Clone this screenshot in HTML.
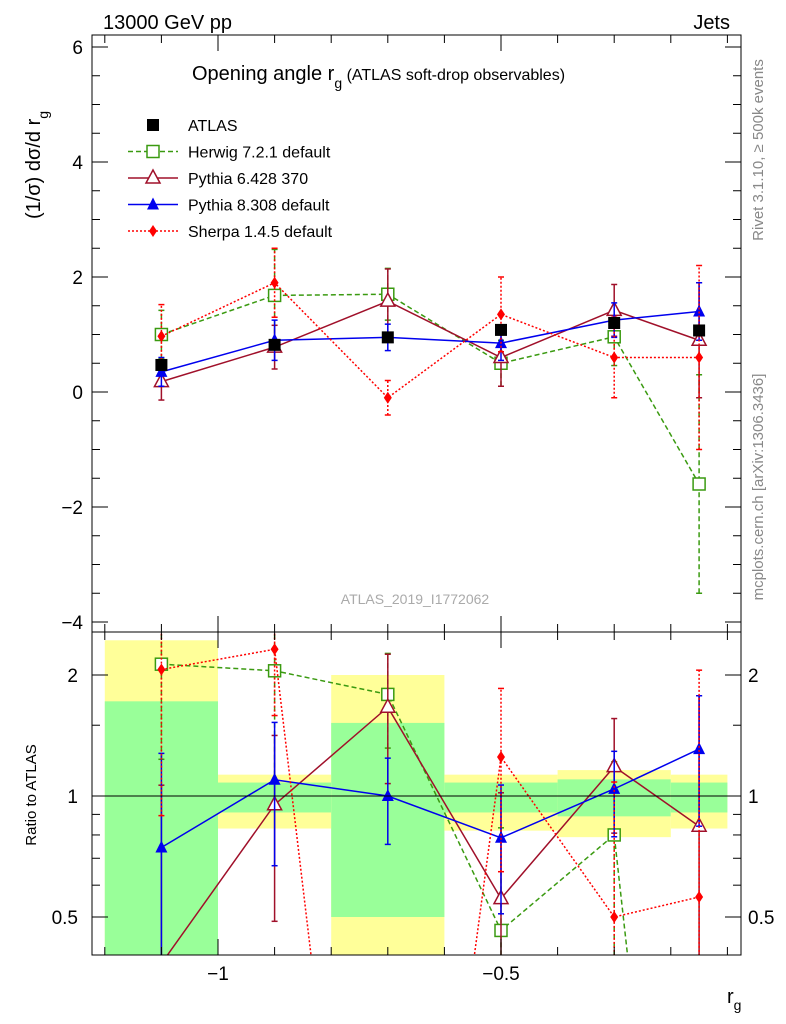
<!DOCTYPE html>
<html><head><meta charset="utf-8"><style>
html,body{margin:0;padding:0;background:#fff;width:786px;height:1024px;overflow:hidden;}
svg{font-family:"Liberation Sans",sans-serif;display:block;}
</style></head><body>
<svg id="c" width="786" height="1024" xmlns="http://www.w3.org/2000/svg">
<defs>
<clipPath id="cm"><rect x="92" y="35" width="649" height="597"/></clipPath>
<clipPath id="cr"><rect x="92" y="632" width="649" height="323"/></clipPath>
</defs>
<g id="bands" clip-path="url(#cr)"></g>
<g id="main"></g>
<g id="ratio"></g>
<rect x="92" y="35" width="649" height="597" fill="none" stroke="#000"/>
<rect x="92" y="632" width="649" height="323" fill="none" stroke="#000"/>
<g id="axes"></g>
<text x="103" y="29" font-size="20">13000 GeV pp</text>
<text x="730" y="29" font-size="20" text-anchor="end">Jets</text>
<text x="192" y="80" font-size="20">Opening angle r<tspan font-size="14" dy="8">g</tspan><tspan font-size="16" dy="-8"> (ATLAS soft-drop observables)</tspan></text>
<text transform="translate(40,165) rotate(-90)" font-size="20" text-anchor="middle">(1/σ) dσ/d r<tspan font-size="14" dy="8">g</tspan></text>
<text transform="translate(36,795) rotate(-90)" font-size="15" text-anchor="middle">Ratio to ATLAS</text>
<text x="727" y="1003" font-size="20">r<tspan font-size="14" dy="7">g</tspan></text>
<text transform="translate(763,150) rotate(-90)" font-size="15" fill="#888" text-anchor="middle">Rivet 3.1.10, ≥ 500k events</text>
<text transform="translate(763,487) rotate(-90)" font-size="15" fill="#888" text-anchor="middle">mcplots.cern.ch [arXiv:1306.3436]</text>
<text x="415" y="604" font-size="14" fill="#aaa" text-anchor="middle">ATLAS_2019_I1772062</text>
<g id="legend"></g>
</svg>
<script>
const xs=[-1.1,-0.9,-0.7,-0.5,-0.3,-0.15];
const binLo=[-1.2,-1.0,-0.8,-0.6,-0.4,-0.2];
const binHi=[-1.0,-0.8,-0.6,-0.4,-0.2,-0.1];
const atlas=[0.47,0.82,0.95,1.08,1.2,1.07];
const bandGreenLo=[0.3,0.91,0.5,0.91,0.89,0.91];
const bandGreenHi=[1.72,1.08,1.52,1.08,1.1,1.08];
const bandYellowLo=[0.3,0.83,0.3,0.82,0.79,0.83];
const bandYellowHi=[2.44,1.13,2.0,1.13,1.16,1.13];
const herwig=[1.0,1.68,1.7,0.5,0.96,-1.6];
const herwigErr=[0.42,0.8,0.45,0.4,0.5,1.9];
const py6=[0.18,0.78,1.58,0.6,1.42,0.9];
const py6Err=[0.32,0.38,0.56,0.5,0.45,1.0];
const py8=[0.35,0.9,0.95,0.85,1.25,1.4];
const py8Err=[0.25,0.35,0.23,0.3,0.3,0.5];
const sherpa=[0.97,1.9,-0.1,1.35,0.6,0.6];
const sherpaErr=[0.55,0.6,0.3,0.65,0.7,1.6];
const mainTicks=[-4,-2,0,2,4,6];
const mainTickLabels=["−4","−2","0","2","4","6"];
const ratioTicks=[0.5,1,2];
const ratioTickLabels=["0.5","1","2"];
const xTicks=[-1,-0.5];
const xTickLabels=["−1","−0.5"];

const NS="http://www.w3.org/2000/svg";
const X=v=>218+(v+1)*566;
const Y=v=>392-v*57.5;
const R=v=>796-Math.log2(Math.max(v,0.01))*121;
function el(t,a,p){const e=document.createElementNS(NS,t);for(const k in a)e.setAttribute(k,a[k]);p.appendChild(e);return e;}
const main=document.getElementById('main'),ratio=document.getElementById('ratio'),bands=document.getElementById('bands'),axes=document.getElementById('axes'),leg=document.getElementById('legend');
const mg=el('g',{'clip-path':'url(#cm)'},main);const rg=el('g',{'clip-path':'url(#cr)'},ratio);

for(let i=0;i<xs.length;i++){
 let r=el('rect',{x:X(binLo[i]),y:R(bandYellowHi[i]),width:X(binHi[i])-X(binLo[i]),height:R(bandYellowLo[i])-R(bandYellowHi[i]),fill:'#ffff99'},bands);
 
 r=el('rect',{x:X(binLo[i]),y:R(bandGreenHi[i]),width:X(binHi[i])-X(binLo[i]),height:R(bandGreenLo[i])-R(bandGreenHi[i]),fill:'#99ff99'},bands);
 
}
let l=el('line',{x1:92,x2:741,y1:R(1),y2:R(1),stroke:'#000'},ratio);


function marker(g,type,x,y,c){
 if(type==='sq')return el('rect',{x:x-6,y:y-6,width:12,height:12,fill:'#000'},g);
 if(type==='osq')return el('rect',{x:x-6,y:y-6,width:12,height:12,fill:'#fff',stroke:c,'stroke-width':1.5},g);
 if(type==='otri')return el('path',{d:`M${x},${y-8}L${x+7},${y+5}L${x-7},${y+5}Z`,fill:'#fff',stroke:c,'stroke-width':1.5},g);
 if(type==='tri')return el('path',{d:`M${x},${y-7}L${x+6},${y+5}L${x-6},${y+5}Z`,fill:c},g);
 if(type==='dia')return el('path',{d:`M${x},${y-6}L${x+4},${y}L${x},${y+6}L${x-4},${y}Z`,fill:c},g);
}
const series=[
 {n:'herwig',v:herwig,e:herwigErr,c:'#3a9a10',m:'osq',d:'5,3',lab:'Herwig 7.2.1 default'},
 {n:'pythia6',v:py6,e:py6Err,c:'#a0102a',m:'otri',d:'',lab:'Pythia 6.428 370'},
 {n:'pythia8',v:py8,e:py8Err,c:'#0000ee',m:'tri',d:'',lab:'Pythia 8.308 default'},
 {n:'sherpa',v:sherpa,e:sherpaErr,c:'#ff0000',m:'dia',d:'2,2',lab:'Sherpa 1.4.5 default'}];
series.forEach(s=>{
 [[mg,Y,i=>s.v[i],i=>s.e[i]],[rg,R,i=>s.v[i]/atlas[i],i=>s.e[i]/atlas[i]]].forEach(([g,F,val,er])=>{
  const sg=el('g',{},g);
  
  let d='';
  for(let i=0;i<xs.length;i++){
   const x=X(xs[i]);const v=val(i),e=er(i);
   d+=(i?'L':'M')+x+','+F(v);
   el('line',{x1:x,x2:x,y1:F(v-e),y2:F(v+e),stroke:s.c,'stroke-width':1.5,'stroke-dasharray':s.d},sg);
   el('line',{x1:x-3,x2:x+3,y1:F(v-e),y2:F(v-e),stroke:s.c,'stroke-width':1.5},sg);
   el('line',{x1:x-3,x2:x+3,y1:F(v+e),y2:F(v+e),stroke:s.c,'stroke-width':1.5},sg);
  }
  el('path',{d:d,fill:'none',stroke:s.c,'stroke-width':1.5,'stroke-dasharray':s.d},sg);
  for(let i=0;i<xs.length;i++){
   const p=marker(sg,s.m,X(xs[i]),F(val(i)),s.c);
   
  }
 });
});
for(let i=0;i<xs.length;i++){
 const p=marker(mg,'sq',X(xs[i]),Y(atlas[i]),'#000');
 
}
mainTicks.forEach((t,i)=>{
 el('line',{x1:92,x2:108,y1:Y(t),y2:Y(t),stroke:'#000'},axes);
 el('line',{x1:725,x2:741,y1:Y(t),y2:Y(t),stroke:'#000'},axes);
 const tx=el('text',{x:83,y:Y(t)+7,'font-size':19,'text-anchor':'end'},axes);tx.textContent=mainTickLabels[i];
 
});
for(let t=-4.5;t<=6;t+=0.5){if(Y(t)>35&&Y(t)<632){el('line',{x1:92,x2:100,y1:Y(t),y2:Y(t),stroke:'#000'},axes);el('line',{x1:733,x2:741,y1:Y(t),y2:Y(t),stroke:'#000'},axes);}}
ratioTicks.forEach((t,i)=>{
 el('line',{x1:92,x2:108,y1:R(t),y2:R(t),stroke:'#000'},axes);
 el('line',{x1:725,x2:741,y1:R(t),y2:R(t),stroke:'#000'},axes);
 let tx=el('text',{x:78,y:R(t)+7,'font-size':19,'text-anchor':'end'},axes);tx.textContent=ratioTickLabels[i];
 
 tx=el('text',{x:748,y:R(t)+7,'font-size':19},axes);tx.textContent=ratioTickLabels[i];
 
});
[0.6,0.7,0.8,0.9,1.5].forEach(t=>{el('line',{x1:92,x2:100,y1:R(t),y2:R(t),stroke:'#000'},axes);el('line',{x1:733,x2:741,y1:R(t),y2:R(t),stroke:'#000'},axes);});
for(let k=-12;k<=-1;k++){const t=k/10;const x=X(t);if(x<92||x>741)continue;const big=(k%5===0);const h=big?16:8;
 [[35,35+h],[632-h,632],[632,632+h],[955-h,955]].forEach(([a,b])=>el('line',{x1:x,x2:x,y1:a,y2:b,stroke:'#000'},axes));}
xTicks.forEach((t,i)=>{const tx=el('text',{x:X(t),y:980,'font-size':19,'text-anchor':'middle'},axes);tx.textContent=xTickLabels[i];
 });
const items=[{m:'sq',c:'#000',lab:'ATLAS',d:''}].concat(series);
items.forEach((s,i)=>{
 const y=125+i*26.5;
 const g=el('g',{},leg);
 if(i>0){el('line',{x1:128,x2:178,y1:y,y2:y,stroke:s.c,'stroke-width':1.5,'stroke-dasharray':s.d},g);}
 marker(g,s.m,153,y,s.c);
 const t=el('text',{x:188,y:y+6,'font-size':16},g);t.textContent=i?s.lab:'ATLAS';
});
</script>
</body></html>
